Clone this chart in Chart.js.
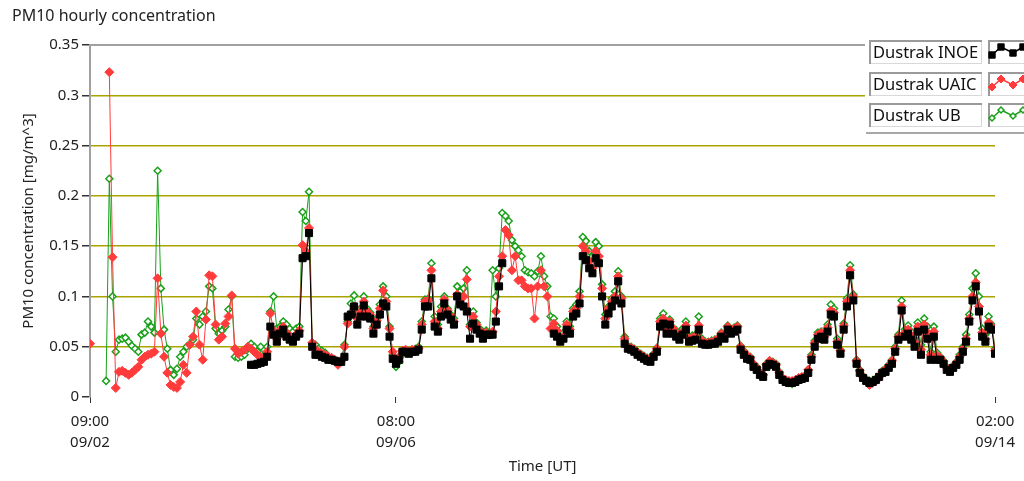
<!DOCTYPE html>
<html>
<head>
<meta charset="utf-8">
<script src="https://cdn.jsdelivr.net/npm/chart.js@4/dist/chart.umd.min.js"></script>
<style>
  html, body { margin: 0; padding: 0; background: #fff; }
  #wrap { width: 1024px; height: 481px; }
</style>
</head>
<body>
<div id="wrap"><canvas id="pm10"></canvas></div>
<script>
// hours counted from 09/02 09:00 UT
const seriesNames = ["Dustrak INOE", "Dustrak UAIC", "Dustrak UB"];
const tickHours = [0, 95, 281];
const tickLabels = [["09:00", "09/02"], ["08:00", "09/06"], ["02:00", "09/14"]];
const yTicks = [0, 0.05, 0.1, 0.15, 0.2, 0.25, 0.3, 0.35];
const yTickLabels = ["0", "0.05", "0.1", "0.15", "0.2", "0.25", "0.3", "0.35"];

// Dustrak INOE, starts at hour 50
const inoeStart = 50;
const inoe = [
  0.032, 0.032, 0.033, 0.034, 0.035, 0.040, 0.070, 0.062, 0.055, 0.063,
  0.067, 0.060, 0.057, 0.055, 0.060, 0.063, 0.138, 0.140, 0.163, 0.050,
  0.042, 0.042, 0.040, 0.039, 0.037, 0.037, 0.036, 0.035, 0.035, 0.040,
  0.080, 0.082, 0.090, 0.072, 0.080, 0.091, 0.080, 0.078, 0.063, 0.072,
  0.082, 0.093, 0.090, 0.060, 0.038, 0.033, 0.037, 0.045, 0.045, 0.043,
  0.045, 0.045, 0.047, 0.067, 0.090, 0.090, 0.118, 0.070, 0.065, 0.080,
  0.093, 0.082, 0.077, 0.072, 0.100, 0.092, 0.090, 0.085, 0.058, 0.073,
  0.067, 0.063, 0.058, 0.062, 0.062, 0.062, 0.075, 0.110, 0.133, null,
  null, null, null, null, null, null, null, null, null, null,
  null, null, null, null, 0.063, 0.060, 0.055, 0.058, 0.067, 0.063,
  0.080, 0.083, 0.093, 0.140, 0.136, 0.128, 0.123, 0.138, 0.133, 0.100,
  0.072, 0.083, 0.090, 0.096, 0.115, 0.093, 0.053, 0.048, 0.047, 0.045,
  0.042, 0.040, 0.038, 0.036, 0.035, 0.040, 0.045, 0.070, 0.073, 0.063,
  0.072, 0.063, 0.060, 0.057, 0.062, 0.067, 0.055, 0.056, 0.057, 0.067,
  0.053, 0.052, 0.052, 0.053, 0.053, 0.055, 0.060, 0.058, 0.067, 0.063,
  0.065, 0.067, 0.047, 0.042, 0.038, 0.037, 0.030, 0.027, 0.022, 0.020,
  0.030, 0.033, 0.032, 0.030, 0.022, 0.017, 0.015, 0.014, 0.014, 0.015,
  0.017, 0.018, 0.019, 0.024, 0.037, 0.050, 0.058, 0.060, 0.057, 0.065,
  0.082, 0.080, 0.052, 0.043, 0.067, 0.090, 0.121, 0.096, 0.033, 0.024,
  0.019, 0.016, 0.014, 0.015, 0.017, 0.020, 0.024, 0.025, 0.029, 0.033,
  0.045, 0.057, 0.086, 0.060, 0.063, 0.057, 0.050, 0.065, 0.042, 0.067,
  0.058, 0.037, 0.060, 0.037, 0.037, 0.033, 0.027, 0.025, 0.029, 0.032,
  0.037, 0.045, 0.055, 0.075, 0.096, 0.110, 0.085, 0.060, 0.055, 0.070,
  0.067, 0.043
];

// Dustrak UAIC, starts at hour 0
const uaicStart = 0;
const uaic = [
  0.053, null, null, null, null, null, 0.323, 0.139, 0.009, 0.025,
  0.026, 0.024, 0.022, 0.024, 0.027, 0.030, 0.037, 0.040, 0.042, 0.043,
  0.045, 0.118, 0.063, 0.040, 0.024, 0.012, 0.010, 0.009, 0.015, 0.032,
  0.024, 0.052, 0.060, 0.085, 0.052, 0.037, 0.077, 0.121, 0.120, 0.072,
  0.057, 0.060, 0.073, 0.080, 0.101, 0.048, 0.043, 0.045, 0.047, 0.050,
  0.048, 0.045, 0.042, 0.040, 0.038, 0.045, 0.083, 0.066, 0.058, 0.066,
  0.070, 0.064, 0.060, 0.058, 0.062, 0.066, 0.151, 0.145, 0.168, 0.054,
  0.047, 0.045, 0.043, 0.042, 0.040, 0.039, 0.037, 0.032, 0.036, 0.050,
  0.073, 0.082, 0.090, 0.078, 0.085, 0.095, 0.085, 0.082, 0.068, 0.076,
  0.088, 0.106, 0.095, 0.068, 0.045, 0.035, 0.040, 0.046, 0.047, 0.045,
  0.047, 0.047, 0.048, 0.072, 0.095, 0.096, 0.126, 0.075, 0.068, 0.085,
  0.097, 0.086, 0.080, 0.075, 0.102, 0.097, 0.100, 0.117, 0.070, 0.080,
  0.072, 0.066, 0.060, 0.064, 0.062, 0.065, 0.085, 0.120, 0.140, 0.166,
  0.161, 0.126, 0.140, 0.116, 0.116, 0.110, 0.108, 0.108, 0.078, 0.110,
  0.126, 0.110, 0.100, 0.068, 0.073, 0.066, 0.058, 0.060, 0.072, 0.067,
  0.085, 0.088, 0.100, 0.150, 0.145, 0.135, 0.128, 0.145, 0.140, 0.108,
  0.078, 0.088, 0.095, 0.100, 0.120, 0.098, 0.058, 0.050, 0.049, 0.047,
  0.044, 0.042, 0.040, 0.038, 0.037, 0.042, 0.048, 0.075, 0.078, 0.067,
  0.075, 0.068, 0.064, 0.060, 0.065, 0.071, 0.058, 0.059, 0.060, 0.071,
  0.056, 0.054, 0.054, 0.055, 0.056, 0.058, 0.063, 0.061, 0.070, 0.066,
  0.068, 0.070, 0.050, 0.045, 0.041, 0.039, 0.033, 0.029, 0.024, 0.022,
  0.032, 0.036, 0.034, 0.032, 0.024, 0.019, 0.017, 0.016, 0.016, 0.017,
  0.019, 0.020, 0.021, 0.027, 0.040, 0.054, 0.062, 0.064, 0.060, 0.069,
  0.086, 0.084, 0.055, 0.046, 0.071, 0.095, 0.126, 0.100, 0.036, 0.026,
  0.020, 0.017, 0.012, 0.014, 0.016, 0.020, 0.025, 0.027, 0.031, 0.036,
  0.048, 0.060, 0.090, 0.064, 0.067, 0.061, 0.055, 0.070, 0.047, 0.072,
  0.064, 0.042, 0.065, 0.041, 0.039, 0.035, 0.029, 0.026, 0.030, 0.034,
  0.040, 0.048, 0.058, 0.078, 0.100, 0.114, 0.090, 0.064, 0.058, 0.074,
  0.070, 0.046
];

// Dustrak UB, starts at hour 0
const ubStart = 0;
const ub = [
  null, null, null, null, null, 0.016, 0.217, 0.100, 0.045, 0.057,
  0.058, 0.059, 0.055, 0.051, 0.048, 0.045, 0.062, 0.064, 0.075, 0.070,
  0.064, 0.225, 0.108, 0.067, 0.048, 0.027, 0.022, 0.028, 0.040, 0.045,
  0.050, 0.053, 0.057, 0.078, 0.072, 0.080, 0.085, 0.110, 0.108, 0.068,
  0.063, 0.066, 0.070, 0.087, 0.100, 0.040, 0.039, 0.040, 0.042, 0.048,
  0.053, 0.050, 0.045, 0.050, 0.040, 0.050, 0.085, 0.100, 0.068, 0.070,
  0.075, 0.072, 0.068, 0.065, 0.068, 0.070, 0.184, 0.175, 0.204, 0.053,
  0.052, 0.048, 0.046, 0.044, 0.040, 0.038, 0.036, 0.034, 0.037, 0.052,
  0.075, 0.093, 0.101, 0.082, 0.088, 0.100, 0.088, 0.084, 0.070, 0.078,
  0.092, 0.110, 0.100, 0.070, 0.042, 0.030, 0.035, 0.042, 0.044, 0.045,
  0.046, 0.048, 0.050, 0.075, 0.097, 0.098, 0.133, 0.080, 0.072, 0.090,
  0.100, 0.088, 0.082, 0.078, 0.110, 0.105, 0.108, 0.126, 0.072, 0.085,
  0.074, 0.068, 0.062, 0.066, 0.064, 0.126, 0.100, 0.128, 0.183, 0.180,
  0.175, 0.156, 0.150, 0.146, 0.140, 0.126, 0.124, 0.123, 0.120, 0.125,
  0.140, 0.120, 0.110, 0.080, 0.078, 0.070, 0.062, 0.064, 0.075, 0.070,
  0.088, 0.092, 0.105, 0.159, 0.155, 0.145, 0.140, 0.154, 0.150, 0.112,
  0.082, 0.090, 0.098, 0.105, 0.125, 0.100, 0.060, 0.051, 0.050, 0.048,
  0.045, 0.043, 0.041, 0.039, 0.038, 0.043, 0.049, 0.078, 0.083, 0.070,
  0.077, 0.069, 0.066, 0.062, 0.068, 0.075, 0.060, 0.061, 0.062, 0.080,
  0.058, 0.055, 0.055, 0.056, 0.057, 0.059, 0.064, 0.062, 0.071, 0.067,
  0.069, 0.071, 0.051, 0.046, 0.042, 0.040, 0.033, 0.030, 0.025, 0.022,
  0.033, 0.036, 0.035, 0.033, 0.025, 0.019, 0.016, 0.014, 0.013, 0.015,
  0.018, 0.019, 0.021, 0.027, 0.042, 0.056, 0.064, 0.065, 0.062, 0.072,
  0.092, 0.088, 0.058, 0.047, 0.073, 0.098, 0.131, 0.102, 0.037, 0.027,
  0.021, 0.018, 0.016, 0.016, 0.018, 0.021, 0.026, 0.028, 0.032, 0.037,
  0.050, 0.062, 0.096, 0.067, 0.071, 0.065, 0.058, 0.074, 0.052, 0.078,
  0.070, 0.045, 0.070, 0.044, 0.040, 0.036, 0.030, 0.027, 0.031, 0.035,
  0.042, 0.050, 0.062, 0.082, 0.108, 0.123, 0.100, 0.068, 0.062, 0.080,
  0.072, 0.048
];

const FONT = "'Noto Sans', 'DejaVu Sans', sans-serif";

function toPoints(start, arr) {
  return arr.map((v, i) => ({ x: start + i, y: v }));
}

const styles = [
  { color: "#000000", fill: "#000000", pointStyle: "rect", radius: 5, border: 1 },
  { color: "#ff3b3b", fill: "#ff3b3b", pointStyle: "rectRot", radius: 4.5, border: 1 },
  { color: "#1aa01a", fill: "#ffffff", pointStyle: "rectRot", radius: 3.5, border: 1.5 }
];

const datasets = [
  [inoeStart, inoe], [uaicStart, uaic], [ubStart, ub]
].map(([start, arr], i) => ({
  label: seriesNames[i],
  data: toPoints(start, arr),
  borderColor: styles[i].color,
  borderWidth: 1,
  pointStyle: styles[i].pointStyle,
  pointRadius: styles[i].radius,
  pointBorderWidth: styles[i].border,
  pointBorderColor: styles[i].color,
  pointBackgroundColor: styles[i].fill,
  spanGaps: false,
  tension: 0
}));

// sample marks shown inside each legend swatch (offsets inside the box)
const swatchShape = [[3, 15], [12, 7], [24, 13], [34, 7]];

// title, top frame and legend boxes
const decorations = {
  id: "decorations",
  afterDraw(chart) {
    const ctx = chart.ctx;
    const area = chart.chartArea;
    ctx.save();
    ctx.font = "16px " + FONT;
    ctx.fillStyle = "#222";
    ctx.textBaseline = "middle";
    ctx.fillText("PM10 hourly concentration", 12, 16);

    ctx.strokeStyle = "#a0a0a0";
    ctx.lineWidth = 2;
    ctx.beginPath();
    ctx.moveTo(area.left, area.top);
    ctx.lineTo(area.right, area.top);
    ctx.stroke();

    // legend panel
    ctx.fillStyle = "#fff";
    ctx.fillRect(865, 36, 1024 - 865, 98);
    ctx.strokeStyle = "#a8a8a8";
    ctx.lineWidth = 2;
    ctx.beginPath();
    ctx.moveTo(866, 133);
    ctx.lineTo(1024, 133);
    ctx.stroke();

    const rows = [40, 72, 103];
    rows.forEach((y0, i) => {
      const st = styles[i];
      // label box
      ctx.lineWidth = 1;
      ctx.strokeStyle = "#d8d8d8";
      ctx.strokeRect(869.5, y0 + 0.5, 112, 23);
      ctx.strokeStyle = "#9a9a9a";
      ctx.lineWidth = 2;
      ctx.beginPath();
      ctx.moveTo(870, y0 + 24);
      ctx.lineTo(870, y0 + 1);
      ctx.lineTo(982, y0 + 1);
      ctx.stroke();
      ctx.fillStyle = "#111";
      ctx.font = "16.5px " + FONT;
      ctx.fillText(seriesNames[i], 873, y0 + 13);
      // sample box
      ctx.lineWidth = 1;
      ctx.strokeStyle = "#d8d8d8";
      ctx.strokeRect(988.5, y0 + 0.5, 40, 23);
      ctx.strokeStyle = "#9a9a9a";
      ctx.lineWidth = 2;
      ctx.beginPath();
      ctx.moveTo(989, y0 + 24);
      ctx.lineTo(989, y0 + 1);
      ctx.lineTo(1024, y0 + 1);
      ctx.stroke();
      const pts = swatchShape.map(([dx, dy]) => [989 + dx, y0 + dy]);
      ctx.strokeStyle = st.color;
      ctx.lineWidth = 1.5;
      ctx.beginPath();
      pts.forEach(([x, y], k) => k ? ctx.lineTo(x, y) : ctx.moveTo(x, y));
      ctx.stroke();
      ctx.fillStyle = st.fill;
      ctx.lineWidth = st.border;
      pts.forEach(([x, y]) => {
        Chart.helpers.drawPoint(ctx, {
          pointStyle: st.pointStyle, radius: st.radius - 0.5, rotation: 0, borderWidth: st.border
        }, x, y);
      });
    });
    ctx.restore();
  }
};

new Chart(document.getElementById("pm10"), {
  type: "line",
  data: { datasets },
  plugins: [decorations],
  options: {
    responsive: true,
    maintainAspectRatio: false,
    animation: false,
    layout: { padding: { top: 45, right: 22, left: 0, bottom: 0 } },
    plugins: {
      legend: { display: false },
      title: { display: false },
      tooltip: { enabled: false }
    },
    scales: {
      x: {
        type: "linear",
        min: 0,
        max: 281,
        afterBuildTicks: s => { s.ticks = tickHours.map(v => ({ value: v })); },
        afterFit: s => { s.height = 84; },
        ticks: {
          autoSkip: false,
          maxRotation: 0,
          padding: 9,
          color: "#222",
          font: { family: FONT, size: 15, lineHeight: 1.35 },
          callback: v => tickLabels[tickHours.indexOf(v)] || ""
        },
        grid: { drawOnChartArea: false, drawTicks: true, tickLength: 6, tickColor: "#333" },
        border: { display: false },
        title: {
          display: true,
          text: "Time [UT]",
          color: "#222",
          font: { family: FONT, size: 15 },
          padding: { top: 0, bottom: 5 }
        }
      },
      y: {
        min: 0,
        max: 0.35,
        afterBuildTicks: s => { s.ticks = yTicks.map(v => ({ value: v })); },
        afterFit: s => { s.width = 90; },
        ticks: {
          padding: 3,
          color: "#222",
          font: { family: FONT, size: 15 },
          callback: v => yTickLabels[yTicks.indexOf(v)]
        },
        grid: {
          color: c => (c.tick && c.tick.value > 0.001 && c.tick.value < 0.34) ? "#aaa400" : "rgba(0,0,0,0)",
          lineWidth: 1.5,
          tickLength: 8,
          tickColor: "#333"
        },
        border: { display: true, color: "#a0a0a0", width: 2 },
        title: {
          display: true,
          text: "PM10 concentration [mg/m^3]",
          color: "#222",
          font: { family: FONT, size: 15 },
          padding: { top: 20, bottom: 0 }
        }
      }
    }
  }
});
</script>
</body>
</html>
